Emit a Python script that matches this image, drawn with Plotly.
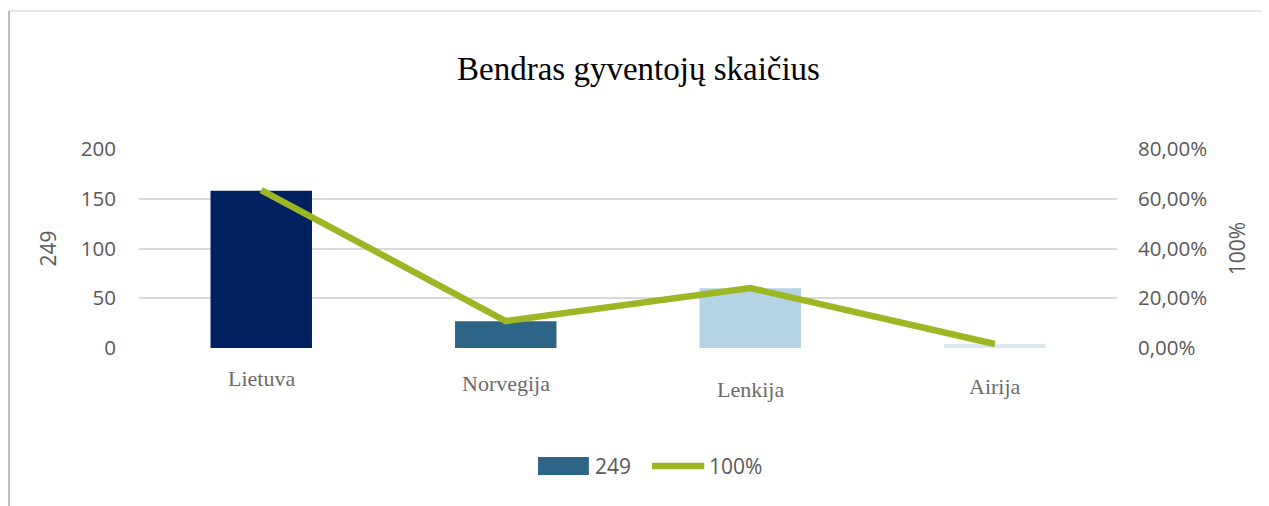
import plotly.graph_objects as go

categories = ["Lietuva", "Norvegija", "Lenkija", "Airija"]
counts = [158, 27, 60, 4]
shares = [63.45, 10.84, 24.10, 1.61]
bar_colors = ["#002060", "#2e6587", "#b4d3e5", "#d9e8f1"]
left_ticks = [0, 50, 100, 150, 200]
right_ticks = [0, 20, 40, 60, 80]
right_ticklabels = ["0,00%", "20,00%", "40,00%", "60,00%", "80,00%"]
bar_series_name = "249"
line_series_name = "100%"
label_shift = [0, -5, -11, -8]

line_color = "#9db724"
grey = "#595959"
sans = "Open Sans, sans-serif"
serif = "Liberation Serif, Times New Roman, serif"

fig = go.Figure()
fig.add_trace(go.Bar(
    x=categories, y=counts, name=bar_series_name,
    marker=dict(color=bar_colors, line=dict(width=0)),
    width=0.415, yaxis="y", showlegend=False,
))
fig.add_trace(go.Scatter(
    x=categories, y=shares, name=line_series_name, mode="lines",
    line=dict(color=line_color, width=6.5), yaxis="y2", showlegend=False,
))

tick_font = dict(family=sans, size=20.5, color=grey)

fig.update_layout(
    width=1261, height=498,
    margin=dict(l=131, r=152, t=141, b=158),
    paper_bgcolor="white", plot_bgcolor="white",
    title=dict(text="Bendras gyventojų skaičius", x=0.5, xanchor="center",
               y=0.878, yanchor="middle",
               font=dict(family=serif, size=33, color="black")),
    xaxis=dict(showticklabels=False, showline=False, showgrid=False, zeroline=False,
               range=[-0.5, 3.5]),
    yaxis=dict(range=[0, 200], tickvals=left_ticks, ticks="", showgrid=True,
               gridcolor="#d9d9d9", gridwidth=1.5, zeroline=False, showline=False,
               tickfont=tick_font, ticklabelstandoff=22,
               title=dict(text=bar_series_name, font=dict(family=sans, size=21, color=grey), standoff=18)),
    yaxis2=dict(range=[0, 80], tickvals=right_ticks, ticktext=right_ticklabels,
                overlaying="y", side="right", showgrid=False, zeroline=False,
                showline=False, ticks="", tickfont=tick_font, ticklabelstandoff=20,
                title=dict(text=line_series_name, font=dict(family=sans, size=21, color=grey), standoff=24)),
    showlegend=False,
)

for cat, dy in zip(categories, label_shift):
    fig.add_annotation(x=cat, xref="x", y=0, yref="paper", yanchor="top",
                       yshift=-16 + dy, text=cat, showarrow=False,
                       font=dict(family=serif, size=22, color="#6b6b6b"))

# manual legend
fig.add_shape(type="rect", xref="paper", yref="paper", x0=0.408, x1=0.460,
              y0=-0.638, y1=-0.548, fillcolor="#2e6587", line=dict(width=0))
fig.add_annotation(x=0.464, y=-0.593, xref="paper", yref="paper", xanchor="left",
                   yanchor="middle", text=bar_series_name, showarrow=False,
                   font=dict(family=sans, size=21, color=grey))
fig.add_shape(type="line", xref="paper", yref="paper", x0=0.5245, x1=0.578,
              y0=-0.593, y1=-0.593, line=dict(color=line_color, width=6.5))
fig.add_annotation(x=0.581, y=-0.593, xref="paper", yref="paper", xanchor="left",
                   yanchor="middle", text=line_series_name, showarrow=False,
                   font=dict(family=sans, size=21, color=grey))

# frame lines
fig.add_shape(type="line", xref="paper", yref="paper", x0=-0.1329, x1=1.17,
              y0=1.6935, y1=1.6935, line=dict(color="#e6e6e6", width=2))
fig.add_shape(type="line", xref="paper", yref="paper", x0=-0.1329, x1=-0.1329,
              y0=1.6935, y1=-0.81, line=dict(color="#bdbdbd", width=2))

fig.write_html("out.html")
